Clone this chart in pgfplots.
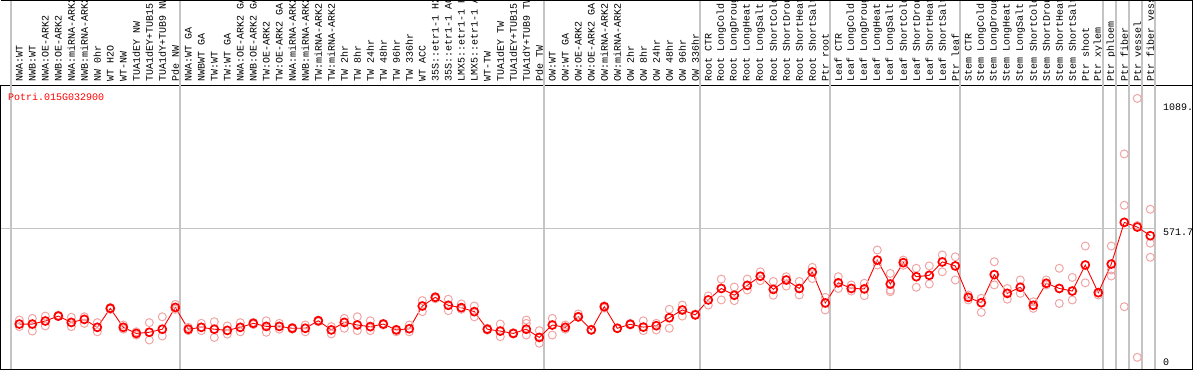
\documentclass[border=0pt]{standalone}
\usepackage{pgfplots}
\pgfplotsset{compat=1.18}
\usepackage{pgfplotstable}
\usepackage{fontspec}
\newfontfamily\mono{Liberation Mono}
\definecolor{rep}{RGB}{240,165,165}
\definecolor{gridc}{RGB}{196,196,196}

\pgfplotstableread{
x y
0 162
1 162
2 175
3 196
4 169
5 182
6 148
7 229
8 148
9 122
10 127
11 140
12 233
13 140
14 148
15 140
16 135
17 148
18 165
19 152
20 152
21 144
22 144
23 176
24 137
25 169
26 158
27 151
28 162
29 137
30 142
31 239
32 276
33 242
34 232
35 215
36 140
37 132
38 122
39 140
40 105
41 158
42 148
43 193
44 137
45 236
46 144
47 161
48 149
49 155
50 189
51 222
52 201
53 265
54 314
55 285
56 327
57 366
58 310
59 350
60 314
61 384
62 252
63 338
64 314
65 312
66 435
67 333
68 424
69 364
70 370
71 427
72 410
73 276
74 253
75 373
76 293
77 319
78 242
79 336
80 314
81 303
82 414
83 296
84 418
85 596
86 576
87 539
}\means

\pgfplotstableread{
x y
0 179
0 151
1 186
1 132
2 196
2 154
3 195
3 200
4 191
4 151
5 193
5 165
6 168
6 129
7 233
7 225
8 158
8 140
9 129
9 115
10 168
10 94
11 193
11 111
12 246
12 225
13 148
13 134
14 165
14 134
15 172
15 105
16 154
16 119
17 168
17 129
18 169
18 160
19 176
19 127
20 165
20 140
21 148
21 140
22 158
22 129
23 179
23 172
24 151
24 120
25 186
25 144
26 193
26 134
27 176
27 134
28 165
28 158
29 129
29 140
30 158
30 129
31 262
31 215
32 279
32 270
33 268
33 219
34 248
34 225
35 239
35 193
36 144
36 136
37 162
37 108
38 125
38 120
39 179
39 165
39 115
40 134
40 80
41 186
41 115
42 158
42 140
43 205
43 190
44 137
44 140
45 240
45 230
46 144
46 144
47 165
47 158
48 176
48 134
49 165
49 137
50 225
50 144
51 243
51 196
52 201
52 205
53 282
53 243
54 354
54 265
55 320
55 262
56 354
56 307
57 385
57 347
58 344
58 285
59 364
59 324
60 344
60 286
61 404
61 356
62 276
62 222
63 364
63 314
64 329
64 303
65 336
65 283
66 478
66 414
67 378
67 307
67 300
68 435
68 413
69 400
69 319
70 410
70 333
71 457
71 385
72 449
72 350
73 286
73 265
74 272
74 212
75 428
75 329
76 314
76 268
77 350
77 293
78 257
78 229
79 350
79 329
80 400
80 250
81 361
81 265
82 495
82 338
83 286
84 495
84 393
84 367
85 888
85 669
85 236
86 1125
86 20
86 583
87 652
87 507
87 447
}\reps

\begin{document}
\begin{tikzpicture}
\begin{axis}[
  scale only axis, width=1191pt, height=284pt,
  xmin=-1.408, xmax=90.21, ymin=-29.9, ymax=1182.2,
  clip=false,
  axis line style={line width=1pt, black},
  ytick=\empty,
  xtick={0,...,87},
  xtick style={draw=none},
  major tick length=0pt,
  xticklabel pos=upper,
  xticklabel style={rotate=90, anchor=west, inner xsep=3pt, inner ysep=0pt,
    font=\mono\fontsize{10}{12}\selectfont},
  xticklabels={NWA:WT,NWB:WT,NWA:OE-ARK2,NWB:OE-ARK2,NWA:miRNA-ARK2,NWB:miRNA-ARK2,NW 0hr,WT H2O,WT-NW,TUA1dEY NW,TUA1dEY+TUB15,TUA1dY+TUB9 NW,Pde NW,
    NWA:WT GA,NWBWT GA,TW:WT,TW:WT GA,NWA:OE-ARK2 GA,NWB:OE-ARK2 GA,TW:OE-ARK2,TW:OE-ARK2 GA,NWA:miRNA-ARK2,NWB:miRNA-ARK2,TW:miRNA-ARK2,TW:miRNA-ARK2,TW 2hr,TW 8hr,TW 24hr,TW 48hr,TW 96hr,TW 336hr,WT ACC,35S::etr1-1 H2,35S::etr1-1 AC,LMX5::etr1-1 H,LMX5::etr1-1 A,WT-TW,TUA1dEY TW,TUA1dEY+TUB15,TUA1dY+TUB9 TW,Pde TW,
    OW:WT,OW:WT GA,OW:OE-ARK2,OW:OE-ARK2 GA,OW:miRNA-ARK2,OW:miRNA-ARK2,OW 2hr,OW 8hr,OW 24hr,OW 48hr,OW 96hr,OW 336hr,
    Root CTR,Root LongCold,Root LongDroug,Root LongHeat,Root LongSalt,Root ShortCold,Root ShortDrou,Root ShortHeat,Root ShortSalt,Ptr root,
    Leaf CTR,Leaf LongCold,Leaf LongDroug,Leaf LongHeat,Leaf LongSalt,Leaf ShortCold,Leaf ShortDrou,Leaf ShortHeat,Leaf ShortSalt,Ptr leaf,
    Stem CTR,Stem LongCold,Stem LongDroug,Stem LongHeat,Stem LongSalt,Stem ShortCold,Stem ShortDrou,Stem ShortHeat,Stem ShortSalt,Ptr shoot,Ptr xylem,
    Ptr phloem,Ptr fiber,Ptr vessel,Ptr fiber vess},
]
% grid lines
\draw[gridc, line width=1.1pt] (axis cs:-1.408,571.7) -- (axis cs:87.36,571.7);
\pgfplotsinvokeforeach{-0.64,12.36,40.36,52.36,62.36,72.36,83.36,84.36,85.36,86.36,87.36}{
  \draw[gridc, line width=1.1pt] (axis cs:#1,-29.9) -- ([yshift=85pt]axis cs:#1,1182.2);
}
% outer frame pieces
\draw[black, line width=1pt] ([yshift=84.5pt]axis cs:-1.408,1182.2) -- ([yshift=84.5pt]axis cs:90.21,1182.2);
\draw[black, line width=1pt] (axis cs:90.21,1182.2) -- ([yshift=85pt]axis cs:90.21,1182.2);

\addplot[only marks, mark=o, mark size=4pt, rep, mark options={line width=1pt}] table[x=x,y=y]{\reps};
\addplot[red, line width=0.9pt, mark=o, mark size=4pt, mark options={line width=1.7pt, red}] table[x=x,y=y]{\means};

\node[anchor=west, inner sep=0pt, text=red, font=\mono\fontsize{10}{12}\selectfont] at ([xshift=7pt,yshift=-12pt]axis cs:-1.408,1182.2) {Potri.015G032900};
\node[anchor=west, inner sep=0pt, font=\mono\fontsize{10}{12}\selectfont] at (axis cs:87.98,1089) {1089.};
\node[anchor=west, inner sep=0pt, font=\mono\fontsize{10}{12}\selectfont] at ([yshift=-4pt]axis cs:87.98,571.7) {571.7};
\node[anchor=west, inner sep=0pt, font=\mono\fontsize{10}{12}\selectfont] at (axis cs:87.98,0) {0};

\coordinate (bl) at (rel axis cs:0,0);
\coordinate (tr) at (rel axis cs:1,1);
\end{axis}
\pgfresetboundingbox
\path[use as bounding box] ([shift={(-1pt,-1pt)}]bl) rectangle ([shift={(2pt,85pt)}]tr);
\end{tikzpicture}
\end{document}
